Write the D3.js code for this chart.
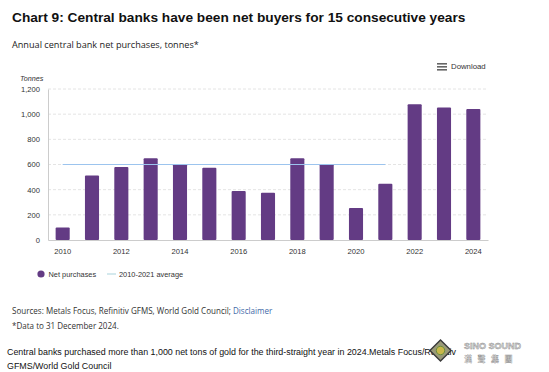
<!DOCTYPE html>
<html>
<head>
<meta charset="utf-8">
<script src="https://cdn.jsdelivr.net/npm/d3@7"></script>
<style>
  body { margin: 0; background: #fff; }
  svg { display: block; }
</style>
</head>
<body>
<script>
// data
const years = [2010, 2011, 2012, 2013, 2014, 2015, 2016, 2017, 2018, 2019, 2020, 2021, 2022, 2023, 2024]
const purchases = [100, 512, 580, 649, 601, 575, 390, 376, 649, 601, 254, 448, 1078, 1052, 1041]
const avgYears = [2010, 2021]
const avgValue = 600
const yTicks = [0, 200, 400, 600, 800, 1000, 1200]
const xTickYears = [2010, 2012, 2014, 2016, 2018, 2020, 2022, 2024]

const width = 549
const height = 372
const plot = { left: 48, right: 488, top: 89, bottom: 240 }

const svg = d3.select('body').append('svg')
    .attr('width', width)
    .attr('height', height)

const sans = 'Liberation Sans, Arial, sans-serif'
const open = 'Open Sans, sans-serif'

// title + subtitle
svg.append('text')
    .attr('x', 12).attr('y', 22)
    .attr('font-family', sans).attr('font-weight', 'bold').attr('font-size', 13.7)
    .attr('fill', '#111')
    .text('Chart 9: Central banks have been net buyers for 15 consecutive years')

svg.append('text')
    .attr('x', 12).attr('y', 48)
    .attr('font-family', open).attr('font-size', 9.15)
    .attr('fill', '#222')
    .text('Annual central bank net purchases, tonnes*')

// download menu
const dl = svg.append('g').attr('transform', 'translate(437, 63)')
;[0, 3, 6].forEach(dy => {
    dl.append('rect').attr('x', 0).attr('y', dy).attr('width', 10).attr('height', 1.6).attr('fill', '#666')
})
svg.append('text')
    .attr('x', 451).attr('y', 69)
    .attr('font-family', sans).attr('font-size', 7.8).attr('fill', '#333')
    .text('Download')

const x = d3.scaleBand()
    .domain(years)
    .range([plot.left, plot.right])
    .paddingInner(0.52)
    .paddingOuter(0.26)

const y = d3.scaleLinear()
    .domain([0, 1200])
    .range([plot.bottom, plot.top])

// grid
svg.append('g')
    .selectAll('line')
    .data(yTicks.filter(d => d > 0))
    .enter().append('line')
        .attr('x1', plot.left).attr('x2', plot.right)
        .attr('y1', d => y(d)).attr('y2', d => y(d))
        .attr('stroke', '#ddd').attr('stroke-width', 0.8)
        .attr('stroke-dasharray', '3,2')

// y axis
const yAxis = svg.append('g')
    .attr('transform', `translate(${plot.left}, 0)`)
    .call(d3.axisLeft(y).tickValues(yTicks).tickSize(0).tickPadding(8).tickFormat(d3.format(',')))
yAxis.select('.domain').attr('stroke', '#ccc')
yAxis.selectAll('text')
    .attr('font-family', sans).attr('font-size', 7.6).attr('fill', '#333')

svg.append('text')
    .attr('x', 20).attr('y', 81)
    .attr('font-family', sans).attr('font-style', 'italic').attr('font-size', 7.2).attr('fill', '#333')
    .text('Tonnes')

// bars
svg.append('g')
    .selectAll('rect')
    .data(years)
    .enter().append('rect')
        .attr('x', (d) => x(d))
        .attr('y', (d, i) => y(purchases[i]))
        .attr('width', x.bandwidth())
        .attr('height', (d, i) => y(0) - y(purchases[i]))
        .attr('rx', 1)
        .attr('fill', '#633b84')

// average line
svg.append('line')
    .attr('x1', x(avgYears[0]) + x.bandwidth() / 2)
    .attr('x2', x(avgYears[1]) + x.bandwidth() / 2)
    .attr('y1', y(avgValue)).attr('y2', y(avgValue))
    .attr('stroke', '#9cc4ee').attr('stroke-width', 1)

// x axis
const xAxis = svg.append('g')
    .attr('transform', `translate(0, ${plot.bottom})`)
    .call(d3.axisBottom(x).tickValues(xTickYears).tickSize(0).tickPadding(9))
xAxis.select('.domain').attr('stroke', '#ccc').attr('stroke-width', 1.2)
xAxis.selectAll('text')
    .attr('font-family', sans).attr('font-size', 7.6).attr('fill', '#333')

// legend
const lg = svg.append('g').attr('font-family', sans).attr('font-size', 7.4).attr('fill', '#333')
lg.append('circle').attr('cx', 41).attr('cy', 274).attr('r', 3.6).attr('fill', '#633b84')
lg.append('text').attr('x', 48.5).attr('y', 276.7).text('Net purchases')
lg.append('line').attr('x1', 107).attr('x2', 116).attr('y1', 274).attr('y2', 274)
    .attr('stroke', '#a9d3dc').attr('stroke-width', 1)
lg.append('text').attr('x', 119).attr('y', 276.7).text('2010-2021 average')

// sources
const src = svg.append('text')
    .attr('x', 12).attr('y', 314)
    .attr('font-family', open).attr('font-size', 8.05).attr('fill', '#333')
src.append('tspan').text('Sources: Metals Focus, Refinitiv GFMS, World Gold Council; ')
src.append('tspan').attr('fill', '#3f6aa8').text('Disclaimer')

svg.append('text')
    .attr('x', 12).attr('y', 328.5)
    .attr('font-family', open).attr('font-size', 8.05).attr('fill', '#333')
    .text('*Data to 31 December 2024.')

// caption
const cap = svg.append('g').attr('font-family', sans).attr('font-size', 8.9).attr('fill', '#111')
cap.append('text').attr('x', 7).attr('y', 355)
    .text('Central banks purchased more than 1,000 net tons of gold for the third-straight year in 2024.Metals Focus/Refinitiv')
cap.append('text').attr('x', 7).attr('y', 368.5)
    .text('GFMS/World Gold Council')

// watermark logo
const wm = svg.append('g')
wm.append('rect').attr('x', 433).attr('y', 343).attr('width', 15).attr('height', 15)
    .attr('transform', 'rotate(45 440.5 350.5)')
    .attr('fill', '#9a9a78').attr('stroke', '#3a3a3a').attr('stroke-width', 1.4)
wm.append('circle').attr('cx', 440.5).attr('cy', 350.5).attr('r', 4.2).attr('fill', '#c9b84a')
    .attr('stroke', '#6b8f3a').attr('stroke-width', 1)
wm.append('text').attr('x', 464).attr('y', 349)
    .attr('font-family', sans).attr('font-weight', 'bold').attr('font-size', 9)
    .attr('fill', '#d8d8d8').attr('stroke', '#888').attr('stroke-width', 0.4)
    .text('SINO SOUND')
wm.append('text').attr('x', 464).attr('y', 362)
    .attr('font-family', 'Noto Sans CJK TC').attr('font-weight', 'bold').attr('font-size', 8)
    .attr('letter-spacing', 5.5)
    .attr('fill', '#e4e4e4').attr('stroke', '#999').attr('stroke-width', 0.3)
    .text('漢聲集團')
</script>
</body>
</html>
